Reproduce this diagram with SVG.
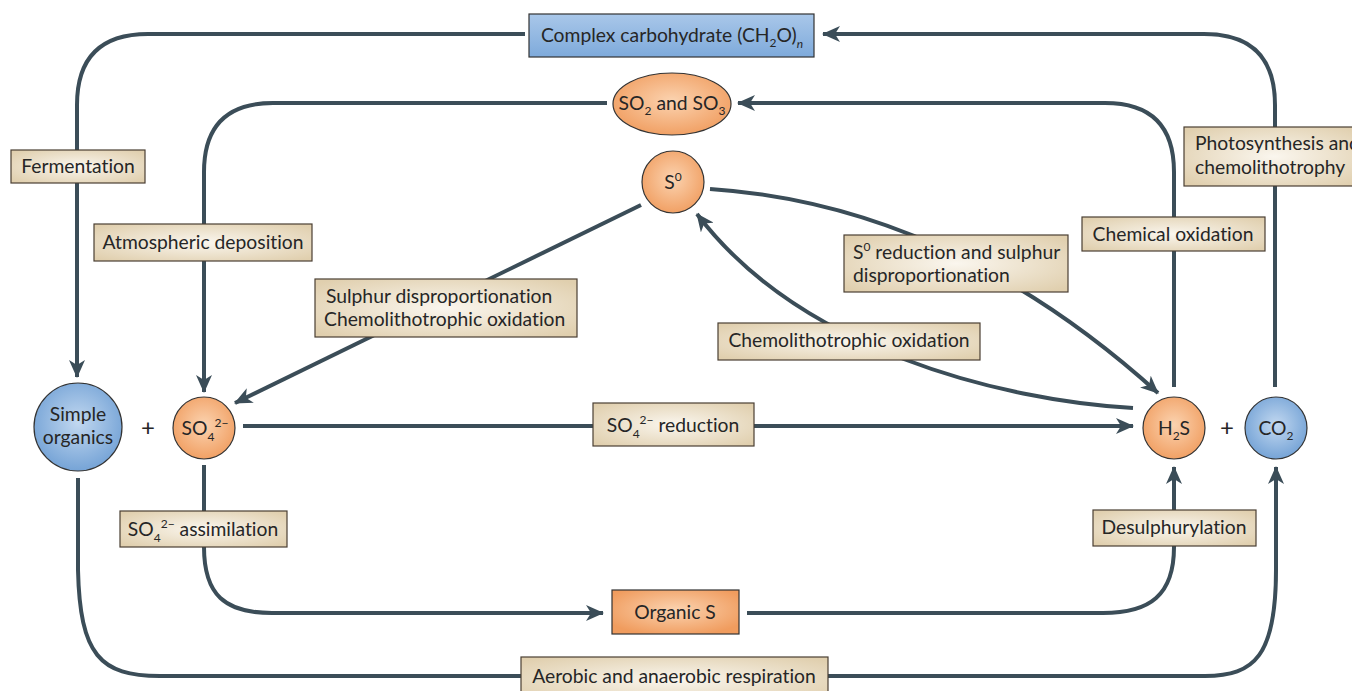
<svg xmlns="http://www.w3.org/2000/svg" width="1352" height="691" viewBox="0 0 1352 691">
<defs>
<radialGradient id="beige" cx="50%" cy="50%" r="65%">
<stop offset="0" stop-color="#faf6ee"/>
<stop offset="1" stop-color="#e0cfae"/>
</radialGradient>
<radialGradient id="orange" cx="50%" cy="45%" r="60%">
<stop offset="0" stop-color="#fbd3b0"/>
<stop offset="1" stop-color="#f09c5e"/>
</radialGradient>
<radialGradient id="blue" cx="50%" cy="45%" r="60%">
<stop offset="0" stop-color="#c2d8f0"/>
<stop offset="1" stop-color="#6f9fd4"/>
</radialGradient>
<linearGradient id="bluebox" x1="0" y1="0" x2="0" y2="1">
<stop offset="0" stop-color="#a9c7e9"/>
<stop offset="1" stop-color="#7eaadb"/>
</linearGradient>
<marker id="arr" viewBox="0 0 18 16" refX="17" refY="8" markerWidth="18" markerHeight="16" markerUnits="userSpaceOnUse" orient="auto">
<path d="M0,0 L18,8 L0,16 L5,8 Z" fill="#3b4d58"/>
</marker>
<style>
.c{fill:none;stroke:#3b4d58;stroke-width:4;stroke-linecap:butt}
.a{marker-end:url(#arr)}
.lb{fill:url(#beige);stroke:#4a3f33;stroke-width:1.2}
.or{fill:url(#orange);stroke:#333;stroke-width:1.2}
.bl{fill:url(#blue);stroke:#333;stroke-width:1.2}
text{font-family:Lato,"Liberation Sans",sans-serif;font-size:19.3px;fill:#262626;font-variant-ligatures:none}
.m{text-anchor:middle}
.s{font-size:12px}
.p{font-size:24px}
</style>
</defs>
<g id="connectors">
<path class="c a" d="M525,34 L148,34 Q77,34 77,105 L77,377"/>
<path class="c a" d="M1275,387 L1275,105 Q1275,34 1204,34 L823,34"/>
<path class="c a" d="M607,103 L273,103 Q204,103 204,172 L204,392"/>
<path class="c a" d="M1174,387 L1174,172 Q1174,103 1105,103 L738,103"/>
<path class="c a" d="M641,205 L235,403"/>
<path class="c a" d="M710,189 Q950,205 1158,393"/>
<path class="c a" d="M1133,408 C1000,400 800,350 697,214"/>
<path class="c a" d="M243,426 L1133,426"/>
<path class="c a" d="M204,465 L204,547 C204,595 225,613 272,613 L603,613"/>
<path class="c a" d="M747,613 L1103,613 C1150,613 1174,595 1174,547 L1174,467"/>
<path class="c" d="M78,478 L78,570 C80,655 100,676 160,676 L1205,676 C1255,676 1276,655 1276,570 L1276,520"/>
<path class="c a" d="M1276,520 L1276,467"/>
</g>
<g id="complex-carbohydrate">
<rect x="529" y="14" width="285" height="43" fill="url(#bluebox)" stroke="#333" stroke-width="1.2"/>
<text x="672" y="42" class="m">Complex carbohydrate (CH<tspan class="s" dy="5">2</tspan><tspan dy="-5">O)</tspan><tspan class="s" dy="6" font-style="italic">n</tspan></text>
</g>
<g id="so2-so3">
<ellipse cx="672" cy="104" rx="59" ry="31" class="or"/>
<text x="672" y="110" class="m">SO<tspan class="s" dy="5">2</tspan><tspan dy="-5"> and SO</tspan><tspan class="s" dy="5">3</tspan></text>
</g>
<g id="s0">
<circle cx="673" cy="182" r="31" class="or"/>
<text x="673" y="189" class="m">S<tspan class="s" dy="-8">0</tspan></text>
</g>
<g id="simple-organics">
<circle cx="78" cy="427" r="44" class="bl"/>
<text x="78" y="421" class="m">Simple</text>
<text x="78" y="444" class="m">organics</text>
</g>
<text x="148" y="436" class="m p">+</text>
<g id="so4">
<circle cx="204" cy="428" r="31" class="or"/>
<text x="205" y="435" class="m">SO<tspan class="s" dy="6">4</tspan><tspan class="s" dy="-14">2−</tspan></text>
</g>
<g id="h2s">
<circle cx="1174" cy="428" r="31" class="or"/>
<text x="1174" y="435" class="m">H<tspan class="s" dy="5">2</tspan><tspan dy="-5">S</tspan></text>
</g>
<text x="1227" y="436" class="m p">+</text>
<g id="co2">
<circle cx="1276" cy="428" r="31" class="bl"/>
<text x="1276" y="435" class="m">CO<tspan class="s" dy="5">2</tspan></text>
</g>
<g id="organic-s">
<rect x="612" y="590" width="127" height="44" class="or"/>
<text x="675" y="619" class="m">Organic S</text>
</g>
<g id="label-fermentation">
<rect x="11" y="150" width="134" height="33" class="lb"/>
<text x="78" y="173" class="m">Fermentation</text>
</g>
<g id="label-atmospheric">
<rect x="94" y="224" width="218" height="37" class="lb"/>
<text x="203" y="249" class="m">Atmospheric deposition</text>
</g>
<g id="label-sulphur-disp">
<rect x="315" y="279" width="262" height="58" class="lb"/>
<text x="326" y="303">Sulphur disproportionation</text>
<text x="324" y="326">Chemolithotrophic oxidation</text>
</g>
<g id="label-s0-reduction">
<rect x="844" y="235" width="224" height="57" class="lb"/>
<text x="853" y="259">S<tspan class="s" dy="-8">0</tspan><tspan dy="8"> reduction and sulphur</tspan></text>
<text x="853" y="282">disproportionation</text>
</g>
<g id="label-chemolitho">
<rect x="718" y="323" width="262" height="37" class="lb"/>
<text x="849" y="347" class="m">Chemolithotrophic oxidation</text>
</g>
<g id="label-chemical-oxidation">
<rect x="1082" y="217" width="183" height="34" class="lb"/>
<text x="1173" y="241" class="m">Chemical oxidation</text>
</g>
<g id="label-photosynthesis">
<rect x="1184" y="127" width="180" height="59" class="lb"/>
<text x="1195" y="150">Photosynthesis and</text>
<text x="1195" y="174">chemolithotrophy</text>
</g>
<g id="label-so4-reduction">
<rect x="593" y="403" width="161" height="43" class="lb"/>
<text x="673" y="432" class="m">SO<tspan class="s" dy="6">4</tspan><tspan class="s" dy="-14">2−</tspan><tspan dy="8"> reduction</tspan></text>
</g>
<g id="label-so4-assimilation">
<rect x="120" y="511" width="167" height="36" class="lb"/>
<text x="203" y="536" class="m">SO<tspan class="s" dy="6">4</tspan><tspan class="s" dy="-14">2−</tspan><tspan dy="8"> assimilation</tspan></text>
</g>
<g id="label-desulphurylation">
<rect x="1093" y="510" width="163" height="36" class="lb"/>
<text x="1174" y="534" class="m">Desulphurylation</text>
</g>
<g id="label-respiration">
<rect x="521" y="657" width="307" height="45" class="lb"/>
<text x="674" y="683" class="m">Aerobic and anaerobic respiration</text>
</g>
</svg>
